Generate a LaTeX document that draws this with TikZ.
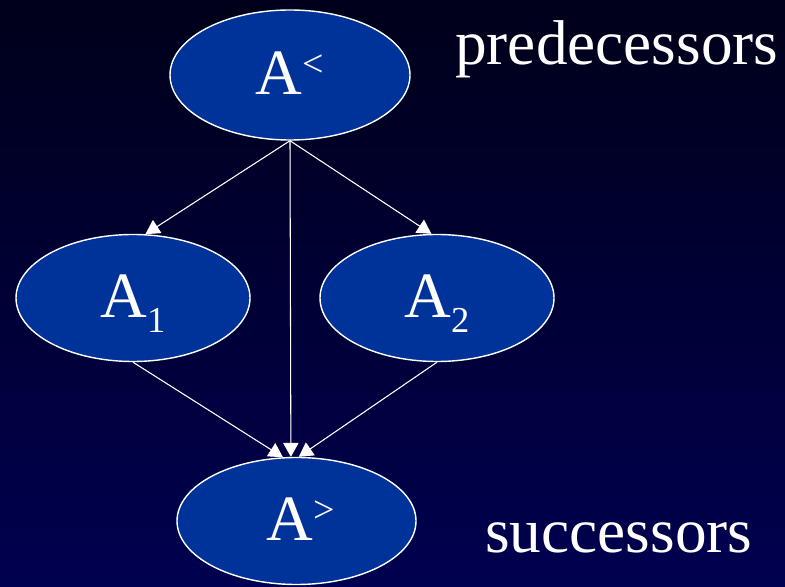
\documentclass[tikz,border=0pt]{standalone}
\usepackage{fontspec}
\setmainfont{Liberation Serif}
\usepackage{tikz}
\usetikzlibrary{
  arrows.meta,
  shapes.geometric
}
\definecolor{NightTop}{RGB}{0,0,26}
\definecolor{NightBottom}{RGB}{0,0,80}
\definecolor{SetBlue}{RGB}{0,51,153}
\newcommand{\lowidx}[1]{\raisebox{-10.5pt}{\fontsize{26}{30}\selectfont #1}}
\newcommand{\highidx}[1]{\raisebox{13pt}{\fontsize{27}{30}\selectfont #1}}
\tikzset{
  setnode/.style={ellipse,draw=white,line width=1pt,fill=SetBlue,text=white,inner sep=0pt,text height=1cm,text depth=0pt,font=\fontsize{46}{50}\selectfont},
  linkarrow/.style={-{Triangle[length=10pt,width=11pt]},draw=white,fill=white,line width=0.75pt},
  sidelabel/.style={text=white,inner sep=0pt,anchor=base west,font=\fontsize{45}{54}\selectfont}
}

\begin{document}
\begin{tikzpicture}
\fill[top color=NightTop,bottom color=NightBottom] (0,0) rectangle (19.625,-14.675);
\node[setnode, minimum width=6cm, minimum height=3.25cm] (alt) at (7.25,-1.875) {A\highidx{<}};
\node[setnode, minimum width=5.85cm, minimum height=3.175cm] (aone) at (3.325,-7.45) {A\lowidx{1}};
\node[setnode, minimum width=5.85cm, minimum height=3.175cm] (atwo) at (10.925,-7.45) {A\lowidx{2}};
\node[setnode, minimum width=5.975cm, minimum height=3.175cm] (agt) at (7.4125,-13.025) {\hspace{0.2cm}A\highidx{>}};
\node[sidelabel] (pred) at (11.375,-1.625) {predecessors};
\node[sidelabel] (succ) at (12.125,-13.8) {successors};
\draw[linkarrow] (alt.south) -- (aone.79);
\draw[linkarrow] (alt.south) -- (atwo.95);
\draw[linkarrow] (alt.south) -- (agt.95);
\draw[linkarrow] (aone.south) -- (agt.102);
\draw[linkarrow] (atwo.south) -- (agt.88);
\end{tikzpicture}
\end{document}
